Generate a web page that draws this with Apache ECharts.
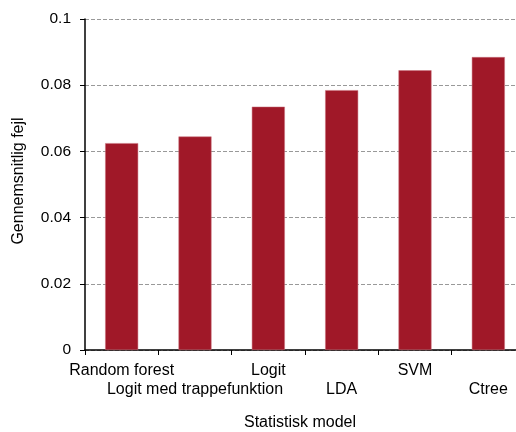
<!DOCTYPE html>
<html><head><meta charset="utf-8">
<script src="https://cdn.jsdelivr.net/npm/echarts@6/dist/echarts.min.js"></script>
<style>html,body{margin:0;padding:0;background:#fff}#c{width:516px;height:432px}</style>
</head><body><div id="c"></div>
<script>
const categories = ['Random forest','Logit med trappefunktion','Logit','LDA','SVM','Ctree'];
const values = [0.0625, 0.0645, 0.0735, 0.0785, 0.0845, 0.0885];
const yTicks = {min: 0, max: 0.1, interval: 0.02};
const font = 'Liberation Sans, Arial, sans-serif';
const chart = echarts.init(document.getElementById('c'));
chart.setOption({
  animation: false,
  backgroundColor: '#fff',
  grid: {left: 85, top: 19, right: -9, bottom: 82, containLabel: false, outerBoundsMode: 'none'},
  xAxis: {
    type: 'category', data: categories,
    name: 'Statistisk model', nameLocation: 'middle', nameGap: 65,
    nameTextStyle: {color: '#000', fontSize: 16, fontFamily: font, padding: [0, 10, 0, 0]},
    axisLine: {lineStyle: {color: '#000', width: 1.5}},
    axisTick: {show: true, length: 5, lineStyle: {color: '#000'}},
    axisLabel: {interval: 0, color: '#000', fontSize: 16, fontFamily: font, margin: 11, lineHeight: 19,
      formatter: (v, i) => (i % 2 ? '\n' + v : v)}
  },
  yAxis: {
    type: 'value', min: yTicks.min, max: yTicks.max, interval: yTicks.interval,
    name: 'Gennemsnitlig fejl', nameLocation: 'middle', nameGap: 58,
    nameTextStyle: {color: '#000', fontSize: 16, fontFamily: font, padding: [0, 0, 0, 7]},
    axisLine: {show: true, lineStyle: {color: '#000', width: 1.5}},
    axisTick: {show: true, length: 5, lineStyle: {color: '#000'}},
    axisLabel: {color: '#000', fontSize: 15.5, fontFamily: font, margin: 14},
    splitLine: {lineStyle: {color: '#999', type: 'dashed', width: 1}}
  },
  series: [{
    type: 'bar', data: values, barWidth: 33,
    itemStyle: {color: '#A01828', borderColor: '#C9707C', borderWidth: 0.5}
  }]
});
</script></body></html>
